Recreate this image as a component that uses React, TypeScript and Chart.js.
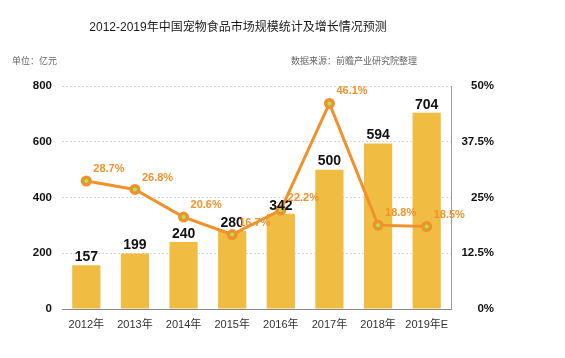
import React, { useEffect, useRef } from "react";
import { Chart, registerables } from "chart.js";

Chart.register(...registerables);

const categories = ["2012年", "2013年", "2014年", "2015年", "2016年", "2017年", "2018年", "2019年E"];
const marketSize = [157, 199, 240, 280, 342, 500, 594, 704];
const growthRate = [28.7, 26.8, 20.6, 16.7, 22.2, 46.1, 18.8, 18.5];
const leftTicks = [0, 200, 400, 600, 800];
const rightTicks = [0, 12.5, 25, 37.5, 50];
const rightTickLabels: Record<string, string> = { "0": "0%", "12.5": "12.5%", "25": "25%", "37.5": "37.5%", "50": "50%" };

const TITLE = "2012-2019年中国宠物食品市场规模统计及增长情况预测";
const UNIT = "单位：亿元";
const SOURCE = "数据来源：前瞻产业研究院整理";
const FONT = "'Liberation Sans', 'Noto Sans CJK SC', sans-serif";

export default function App() {
  const ref = useRef<HTMLCanvasElement>(null);
  useEffect(() => {
    const textPlugin = {
      id: "texts",
      afterDraw(chart: any) {
        const ctx = chart.ctx;
        ctx.save();
        ctx.fillStyle = "#1a1a1a";
        ctx.font = `12px ${FONT}`;
        ctx.textAlign = "center";
        ctx.textBaseline = "middle";
        ctx.fillText(TITLE, 238, 28);
        ctx.fillStyle = "#666";
        ctx.font = `9px ${FONT}`;
        ctx.textAlign = "left";
        ctx.fillText(UNIT, 12, 62);
        ctx.fillText(SOURCE, 291, 62);
        ctx.restore();
      },
      afterDatasetsDraw(chart: any) {
        const ctx = chart.ctx;
        ctx.save();
        const barMeta = chart.getDatasetMeta(1);
        ctx.fillStyle = "#111";
        ctx.font = `bold 14px ${FONT}`;
        ctx.textAlign = "center";
        ctx.textBaseline = "bottom";
        barMeta.data.forEach((el: any, i: number) => {
          ctx.fillText(String(marketSize[i]), el.x, el.y - 1);
        });
        const lineMeta = chart.getDatasetMeta(0);
        ctx.fillStyle = "#F0922B";
        ctx.font = `bold 11px ${FONT}`;
        ctx.textAlign = "left";
        ctx.textBaseline = "middle";
        lineMeta.data.forEach((el: any, i: number) => {
          ctx.fillText(growthRate[i].toFixed(1) + "%", el.x + 7, el.y - 12);
        });
        ctx.restore();
      },
    };

    const chart = new Chart(ref.current!, {
      type: "bar",
      data: {
        labels: categories,
        datasets: [
          {
            type: "line",
            label: "增长率",
            data: growthRate,
            yAxisID: "y1",
            borderColor: "#F0922B",
            borderWidth: 3,
            pointRadius: 3.75,
            pointBorderWidth: 3.5,
            pointBackgroundColor: "#A6E85A",
            pointBorderColor: "#F0922B",
            tension: 0,
            order: 0,
          } as any,
          {
            type: "bar",
            label: "市场规模",
            data: marketSize,
            yAxisID: "y",
            backgroundColor: "#F0BC42",
            barPercentage: 0.58,
            categoryPercentage: 1,
            order: 1,
          },
        ],
      },
      options: {
        responsive: false,
        animation: false,
        layout: { padding: { top: 86, right: 71, left: 0, bottom: 0 } },
        plugins: { legend: { display: false }, tooltip: { enabled: false }, title: { display: false } },
        scales: {
          x: {
            grid: { display: false },
            border: { display: true, color: "#888", width: 1 },
            ticks: { color: "#333", font: { size: 11, family: FONT }, padding: 1, maxRotation: 0 },
            afterFit(scale: any) { scale.height = 49; },
          },
          y: {
            position: "left",
            min: 0,
            max: 800,
            afterBuildTicks(scale: any) { scale.ticks = leftTicks.map((v) => ({ value: v })); },
            grid: { color: "#d4d4d4", drawTicks: false },
            border: { display: false, dash: [2, 2] },
            ticks: { color: "#111", font: { size: 11.5, weight: "bold", family: FONT }, padding: 10 },
            afterFit(scale: any) { scale.width = 62; },
          },
          y1: {
            position: "right",
            min: 0,
            max: 50,
            afterBuildTicks(scale: any) { scale.ticks = rightTicks.map((v) => ({ value: v })); },
            grid: { display: false },
            border: { display: true, color: "#999", width: 1 },
            ticks: {
              color: "#111",
              font: { size: 11.5, weight: "bold", family: FONT },
              crossAlign: "far",
              padding: 0,
              callback: (v: any) => rightTickLabels[String(v)] ?? v + "%",
            },
            afterFit(scale: any) { scale.width = 43; },
          },
        },
      },
      plugins: [textPlugin],
    } as any);
    return () => chart.destroy();
  }, []);
  return (
    <div style={{ position: "absolute", left: 0, top: 0, width: 565, height: 358, background: "#fff" }}>
      <canvas ref={ref} width={565} height={358} style={{ width: 565, height: 358 }} />
    </div>
  );
}
